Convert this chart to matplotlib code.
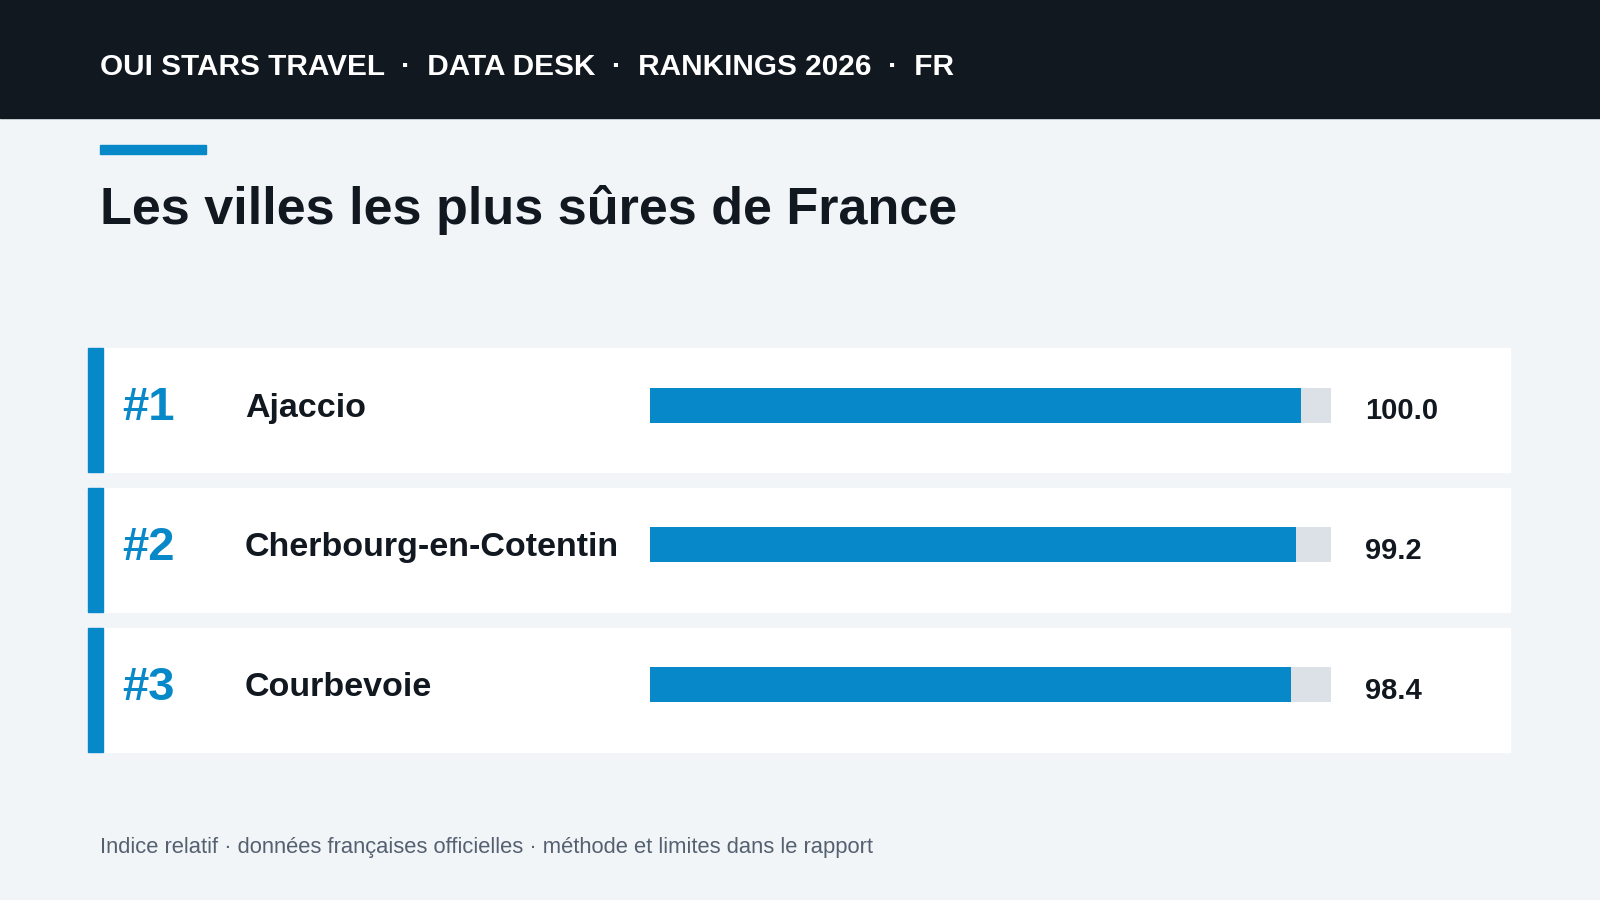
import matplotlib
matplotlib.use("Agg")
import matplotlib.pyplot as plt
from matplotlib.patches import Rectangle

ranks = ["#1", "#2", "#3"]
cities = ["Ajaccio", "Cherbourg-en-Cotentin", "Courbevoie"]
values = [100.0, 99.2, 98.4]
value_labels = ["100.0", "99.2", "98.4"]
track_max = 104.5

W, H = 1568, 882
BLUE = "#0788c9"
DARK = "#121820"
BG = "#f1f5f8"
TRACK = "#dbe1e7"
plt.rcParams['font.family'] = ['Liberation Sans', 'DejaVu Sans']

fig = plt.figure(figsize=(16, 9), dpi=100)
fig.patch.set_facecolor(BG)
ax = fig.add_axes([0, 0, 1, 1])
ax.set_xlim(0, W); ax.set_ylim(H, 0); ax.axis("off")

ax.add_patch(Rectangle((0, 0), W, 116, color=DARK))
ax.text(98, 66, "OUI STARS TRAVEL  ·  DATA DESK  ·  RANKINGS 2026  ·  FR",
        color="white", fontsize=21.4, fontweight="bold", va="center")
ax.add_patch(Rectangle((98, 142), 104, 9, color=BLUE))
ax.text(98, 206, "Les villes les plus sûres de France", color=DARK,
        fontsize=37.5, fontweight="bold", va="center")

tops = [341, 478, 615]
for i, t in enumerate(tops):
    ax.add_patch(Rectangle((86, t), 1394, 122, color="white"))
    ax.add_patch(Rectangle((86, t), 15, 122, color=BLUE))
    ax.text(120, t + 59, ranks[i], color=BLUE, fontsize=34, fontweight="bold", va="center")
    ax.text(240, t + 59, cities[i], color=DARK, fontsize=24.5, fontweight="bold", va="center")
    ax.text(1338, t + 62, value_labels[i], color=DARK, fontsize=21, fontweight="bold", va="center")

ax.text(98, 831, "Indice relatif · données françaises officielles · méthode et limites dans le rapport",
        color="#556070", fontsize=15.8, va="center")

y0 = tops[0] + 56 - 68.5
y1 = tops[2] + 56 + 68.5
bx = fig.add_axes([637 / W, 1 - y1 / H, (1304 - 637) / W, (y1 - y0) / H])
bx.set_xlim(0, track_max); bx.set_ylim(2.5, -0.5); bx.axis("off")
ypos = list(range(len(values)))
bx.barh(ypos, [track_max] * len(values), height=0.25, color=TRACK)
bx.barh(ypos, values, height=0.25, color=BLUE)

fig.savefig("out.png", dpi=100, facecolor=BG)
